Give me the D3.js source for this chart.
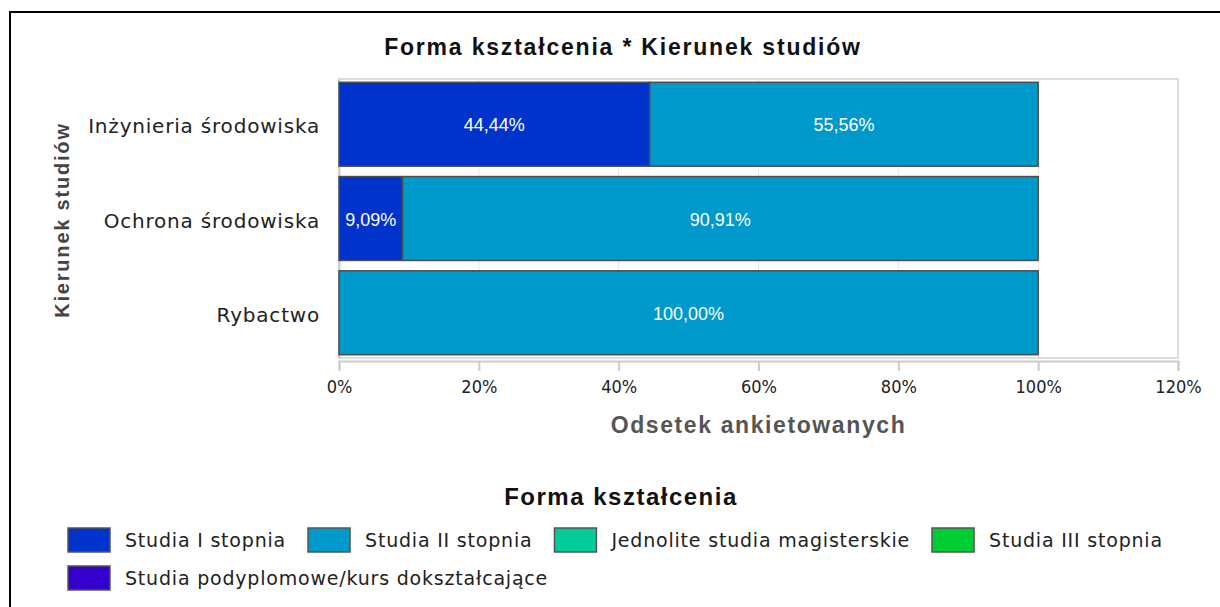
<!DOCTYPE html>
<html>
<head>
<meta charset="utf-8">
<script src="https://cdn.jsdelivr.net/npm/d3@7"></script>
<style>
  body { margin: 0; background: #fff; }
  svg { display: block; }
</style>
</head>
<body>
<svg id="chart" width="1220" height="607"></svg>
<script>
// data
var categories = ["Inżynieria środowiska", "Ochrona środowiska", "Rybactwo"];
var seriesNames = ["Studia I stopnia", "Studia II stopnia", "Jednolite studia magisterskie",
                   "Studia III stopnia", "Studia podyplomowe/kurs dokształcające"];
var seriesColors = ["#0033cc", "#0099cc", "#00cc99", "#00cc33", "#3300cc"];
var studiaI = [44.44, 9.09, 0];
var studiaII = [55.56, 90.91, 100];
var jednolite = [0, 0, 0];
var studiaIII = [0, 0, 0];
var podyplomowe = [0, 0, 0];
var xTicks = [0, 20, 40, 60, 80, 100, 120];

var seriesValues = [studiaI, studiaII, jednolite, studiaIII, podyplomowe];

var rows = categories.map(function(c, i) {
  var r = { cat: c };
  seriesNames.forEach(function(s, j) { r[s] = seriesValues[j][i]; });
  return r;
});

var svg = d3.select("#chart");
var plotLeft = 339, plotRight = 1178, plotTop = 79, plotBottom = 358, axisY = 361;

var pl = d3.formatLocale({ decimal: ",", thousands: " ", grouping: [3], currency: ["", " zł"] });
var fmt = pl.format(".2f");

// outer frame
svg.append("rect")
    .attr("x", 10).attr("y", 12)
    .attr("width", 1230).attr("height", 620)
    .style("fill", "none").style("stroke", "#000").style("stroke-width", 2);

var x = d3.scaleLinear().domain([0, 120]).range([plotLeft, plotRight]);
var y = d3.scaleBand().domain(categories)
    .range([plotTop, plotBottom])
    .paddingInner(0.11).paddingOuter(0.035);

// plot frame + grid
svg.append("rect")
    .attr("x", x(0)).attr("y", plotTop)
    .attr("width", x(120) - x(0)).attr("height", plotBottom - plotTop)
    .style("fill", "none").style("stroke", "#ddd").style("stroke-width", 2);

svg.append("g").selectAll("line")
    .data(xTicks.slice(1, -1))
    .enter().append("line")
    .attr("x1", function(d) { return x(d); }).attr("x2", function(d) { return x(d); })
    .attr("y1", plotTop).attr("y2", plotBottom)
    .style("stroke", "#e6e6e6");

// x axis
var xAxis = svg.append("g")
    .attr("transform", "translate(0," + axisY + ")")
    .call(d3.axisBottom(x).tickValues(xTicks).tickSize(10).tickPadding(9)
      .tickFormat(function(d) { return d + "%"; }));
xAxis.select(".domain").style("stroke", "#ccc").style("stroke-width", 2);
xAxis.selectAll(".tick line").style("stroke", "#ccc").style("stroke-width", 2);
xAxis.selectAll("text")
    .style("font-family", "DejaVu Sans Condensed, DejaVu Sans").style("font-stretch", "condensed")
    .style("font-size", "18px").style("fill", "#222");

// y axis labels
var yAxis = svg.append("g")
    .attr("transform", "translate(" + x(0) + ",0)")
    .call(d3.axisLeft(y).tickSize(0).tickPadding(19));
yAxis.select(".domain").style("stroke", "#ccc").style("stroke-width", 2);
yAxis.selectAll("text")
    .attr("dy", "0.45em")
    .style("font-family", "DejaVu Sans").style("font-size", "20px")
    .style("letter-spacing", "0.8px").style("fill", "#222");

// stacked bars
var stack = d3.stack().keys(seriesNames)(rows);

var layer = svg.append("g").selectAll("g")
    .data(stack)
    .enter().append("g")
    .style("fill", function(d, i) { return seriesColors[i]; });

layer.selectAll("rect")
    .data(function(d) { return d.filter(function(p) { return p[1] - p[0] > 0; }); })
    .enter().append("rect")
    .attr("x", function(d) { return x(d[0]); })
    .attr("y", function(d) { return y(d.data.cat); })
    .attr("width", function(d) { return x(d[1]) - x(d[0]); })
    .attr("height", y.bandwidth())
    .style("stroke", "#4d4d4d").style("stroke-width", 1.5);

layer.selectAll("text")
    .data(function(d) { return d.filter(function(p) { return p[1] - p[0] > 0; }); })
    .enter().append("text")
    .attr("x", function(d) { return (x(d[0]) + x(d[1])) / 2; })
    .attr("y", function(d) { return y(d.data.cat) + y.bandwidth() / 2; })
    .attr("dy", "0.4em")
    .attr("text-anchor", "middle")
    .style("font-family", "Liberation Sans, Arial, sans-serif").style("font-size", "18px")
    .style("fill", "#fff")
    .text(function(d) { return fmt(d[1] - d[0]) + "%"; });

// titles
svg.append("text")
    .attr("x", 623).attr("y", 55)
    .attr("text-anchor", "middle")
    .style("font-family", "Liberation Sans, Arial, sans-serif").style("font-weight", "bold")
    .style("font-size", "23px").style("letter-spacing", "1.8px").style("fill", "#111")
    .text("Forma kształcenia * Kierunek studiów");

svg.append("text")
    .attr("transform", "translate(69,220) rotate(-90)")
    .attr("text-anchor", "middle")
    .style("font-family", "Liberation Sans, Arial, sans-serif").style("font-weight", "bold")
    .style("font-size", "20px").style("letter-spacing", "1.8px").style("fill", "#444")
    .text("Kierunek studiów");

svg.append("text")
    .attr("x", (x(0) + x(120)) / 2).attr("y", 433)
    .attr("text-anchor", "middle")
    .style("font-family", "Liberation Sans Narrow, Liberation Sans, Arial, sans-serif").style("font-weight", "bold")
    .style("font-size", "23px").style("letter-spacing", "1.6px").style("fill", "#555")
    .text("Odsetek ankietowanych");

// legend
svg.append("text")
    .attr("x", 621).attr("y", 505)
    .attr("text-anchor", "middle")
    .style("font-family", "Liberation Sans, Arial, sans-serif").style("font-weight", "bold")
    .style("font-size", "24px").style("letter-spacing", "1.5px").style("fill", "#111")
    .text("Forma kształcenia");

var legend = svg.append("g");
var lx = 68, ly = 528, rowH = 38, maxX = 1190;
seriesNames.forEach(function(s, i) {
  var item = legend.append("g");
  item.append("rect")
      .attr("width", 42).attr("height", 24)
      .style("fill", seriesColors[i]).style("stroke", "#555").style("stroke-width", 1.5);
  var t = item.append("text")
      .attr("x", 57).attr("y", 19)
      .style("font-family", "DejaVu Sans").style("font-size", "19px")
      .style("letter-spacing", "0.8px").style("fill", "#222")
      .text(s);
  var w = 57 + t.node().getComputedTextLength();
  if (lx + w > maxX) { lx = 68; ly += rowH; }
  item.attr("transform", "translate(" + lx + "," + ly + ")");
  lx += w + 22;
});
</script>
</body>
</html>
